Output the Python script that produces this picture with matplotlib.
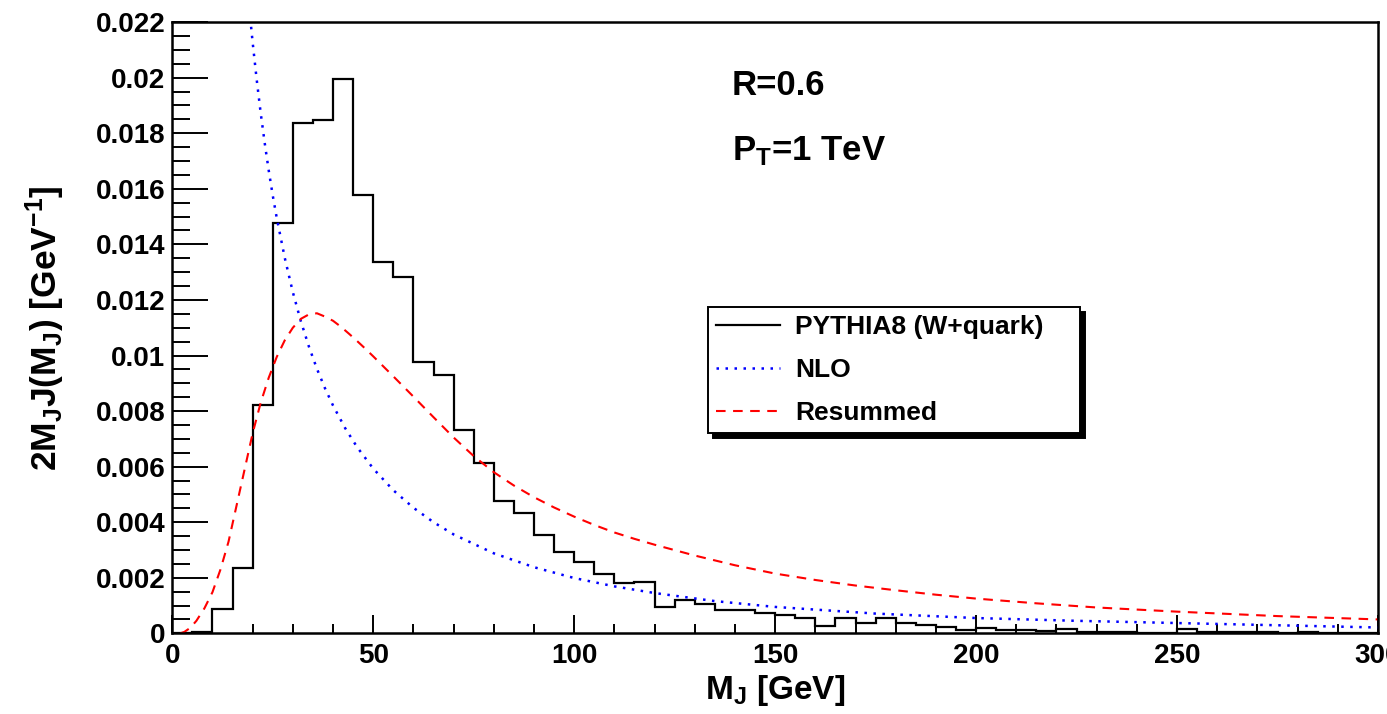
import matplotlib
matplotlib.use("Agg")
import matplotlib.pyplot as plt
import numpy as np

# Helvetica-like bold text, as in the ROOT canvas
plt.rcParams["font.family"] = ["Liberation Sans", "DejaVu Sans"]
plt.rcParams["font.weight"] = "bold"
plt.rcParams["axes.labelweight"] = "bold"
plt.rcParams["mathtext.fontset"] = "custom"
plt.rcParams["mathtext.rm"] = "Liberation Sans:bold"
plt.rcParams["mathtext.it"] = "Liberation Sans:bold"
plt.rcParams["mathtext.bf"] = "Liberation Sans:bold"

# PYTHIA8 histogram, 5 GeV bins from 0 to 300 GeV
bin_edges = np.arange(0, 305, 5)
pythia = [0.0, 0.00003, 0.00086, 0.00236, 0.00823, 0.01478, 0.01837, 0.01847,
          0.01995, 0.01578, 0.01338, 0.01284, 0.00976, 0.0093, 0.00733, 0.00614,
          0.00476, 0.00434, 0.00354, 0.00292, 0.00258, 0.00213, 0.0018, 0.00185,
          0.00094, 0.0012, 0.00107, 0.00083, 0.00083, 0.00072, 0.00065, 0.00056,
          0.00026, 0.00056, 0.00036, 0.00056, 0.00036, 0.00029, 0.00024, 0.00013,
          0.0002, 0.00013, 0.00013, 0.00007, 0.00015, 0.00003, 0.00003, 0.00004,
          0.00002, 0.00002, 0.00014, 0.00003, 0.00004, 0.00005, 0.00003, 0.00002,
          0.00004, 0.00002, 0.00002, 0.00001]

# NLO curve
nlo_m = [19, 19.5, 20, 21, 22, 23, 24, 25, 26, 28, 30, 32, 34, 36, 38, 40, 43, 46,
         50, 55, 60, 65, 70, 80, 90, 100, 110, 120, 135, 150, 175, 200, 225, 250,
         275, 300]
nlo = [0.0228, 0.0220, 0.02127, 0.01994, 0.01873, 0.01765, 0.01666, 0.01576,
       0.01495, 0.01351, 0.01228, 0.01123, 0.01032, 0.00952, 0.00882, 0.0082,
       0.00739, 0.0067, 0.00593, 0.00515, 0.00452, 0.004, 0.00356, 0.00288,
       0.00238, 0.00199, 0.00169, 0.00145, 0.00116, 0.00095, 0.00071, 0.00055,
       0.00045, 0.00037, 0.00029, 0.00021]

# Resummed curve
res_m = [2, 3, 4.5, 6, 8, 10, 12, 14, 16, 18, 20, 22, 24, 26, 28, 30, 32, 34, 36,
         38, 40, 42, 44, 46, 48, 50, 55, 60, 65, 70, 75, 80, 85, 90, 95, 100, 105,
         110, 115, 120, 130, 140, 150, 160, 170, 180, 190, 200, 215, 230, 250, 275,
         300]
resummed = [0.0, 0.00005, 0.0002, 0.00045, 0.0009, 0.00148, 0.0023, 0.0033,
            0.0046, 0.0059, 0.0072, 0.0083, 0.0092, 0.00995, 0.01055, 0.011,
            0.01132, 0.01148, 0.01152, 0.0114, 0.01125, 0.01103, 0.01078, 0.01052,
            0.01025, 0.00997, 0.00925, 0.00852, 0.00778, 0.00705, 0.00638, 0.0058,
            0.00532, 0.0049, 0.00453, 0.0042, 0.0039, 0.00363, 0.0034, 0.00319,
            0.0028, 0.00245, 0.00215, 0.00192, 0.00172, 0.00155, 0.00139, 0.00125,
            0.00108, 0.00093, 0.00078, 0.00062, 0.0005]

xticks = [0, 50, 100, 150, 200, 250, 300]
yticks = [0, 0.002, 0.004, 0.006, 0.008, 0.01, 0.012, 0.014, 0.016, 0.018, 0.02, 0.022]
ytick_labels = ["0", "0.002", "0.004", "0.006", "0.008", "0.01", "0.012", "0.014",
                "0.016", "0.018", "0.02", "0.022"]

fig = plt.figure(figsize=(13.87, 7.14), dpi=100)
ax = fig.add_axes([0.1242, 0.113, 0.8693, 0.856])

ax.stairs(pythia, bin_edges, color="black", lw=1.6, label="PYTHIA8 (W+quark)")
ax.plot(nlo_m, nlo, color="blue", lw=1.8, ls=(0, (1, 2.6)), label="NLO")
ax.plot(res_m, resummed, color="red", lw=1.5, ls=(0, (4.6, 3.6)), label="Resummed")

ax.set_xlim(0, 300)
ax.set_ylim(0, 0.022)

ax.set_xticks(xticks)
ax.set_xticks(np.arange(0, 301, 10), minor=True)
ax.set_yticks(yticks)
ax.set_yticklabels(ytick_labels)
ax.set_yticks(np.arange(0, 0.02201, 0.0005), minor=True)

ax.tick_params(axis="both", which="both", direction="in", top=False, right=False,
               width=1.4, labelsize=20)
ax.tick_params(axis="x", which="major", length=13, pad=7)
ax.tick_params(axis="x", which="minor", length=6.5)
ax.tick_params(axis="y", which="major", length=26, pad=5)
ax.tick_params(axis="y", which="minor", length=13)
for sp in ax.spines.values():
    sp.set_linewidth(1.8)

ax.set_xlabel(r"M$_J$ [GeV]", fontsize=24, fontweight="bold", va="center")
ax.xaxis.set_label_coords(0.5, -0.093)
ax.set_ylabel(r"2M$_J$J(M$_J$) [GeV$^{-1}$]", fontsize=25.5, fontweight="bold",
              va="center")
ax.yaxis.set_label_coords(-0.105, 0.5)

ax.text(139.2, 0.01937, "R=0.6", fontsize=25, va="baseline")
ax.text(139.2, 0.01703, r"P$_T$=1 TeV", fontsize=25, va="baseline")

leg = ax.legend(loc="upper left", bbox_to_anchor=(0.4446, 0.326, 0.3082, 0.2074),
                mode="expand", fontsize=19, fancybox=False, framealpha=1,
                edgecolor="black", borderaxespad=0, borderpad=0.3,
                labelspacing=0.72, handlelength=2.4, handletextpad=0.6,
                shadow={"ox": 3.6, "oy": -3.6, "facecolor": "black",
                        "edgecolor": "black", "alpha": 1})
leg.get_frame().set_linewidth(1.4)

fig.savefig("out.png", dpi=100)
